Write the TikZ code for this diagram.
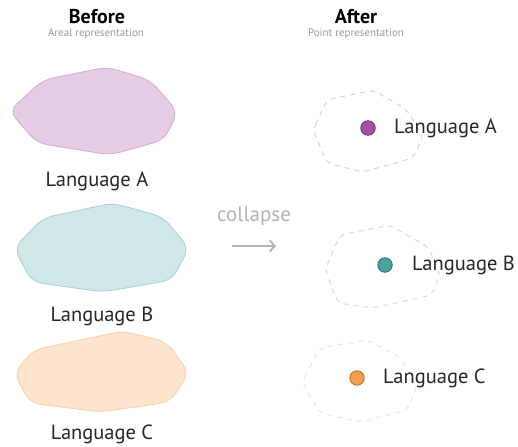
\documentclass[tikz,border=0pt]{standalone}
\usepackage{fontspec}
\setmainfont{PT Sans}
\usetikzlibrary{arrows.meta}
\definecolor{aFill}{HTML}{E6CDE6}
\definecolor{aLine}{HTML}{D6A8D8}
\definecolor{aDot}{HTML}{A64FA9}
\definecolor{aDotLine}{HTML}{6E2C72}
\definecolor{bFill}{HTML}{CFE7E7}
\definecolor{bLine}{HTML}{A2D3D1}
\definecolor{bDot}{HTML}{4AA39F}
\definecolor{bDotLine}{HTML}{2A6966}
\definecolor{cFill}{HTML}{FDE4CD}
\definecolor{cLine}{HTML}{F9D0A6}
\definecolor{cDot}{HTML}{F5A04B}
\definecolor{cDotLine}{HTML}{B86F2B}
\definecolor{subGray}{HTML}{999999}
\definecolor{arrGray}{HTML}{B3B3B3}
\tikzset{
  area/.style={line width=0.8pt, rounded corners=10pt, line join=round},
  ghost/.style={line width=0.9pt, dash pattern=on 5pt off 5pt, rounded corners=6pt},
  dotmark/.style={circle, minimum size=14.5pt, inner sep=0pt, line width=0.8pt},
  langlabel/.style={font=\fontsize{20.5}{24}\selectfont, text=black!85, inner sep=0pt},
  title/.style={font=\fontsize{20}{24}\selectfont\bfseries, inner sep=0pt},
  subtitle/.style={font=\fontsize{11}{13}\selectfont, text=subGray, inner sep=0pt}
}
\begin{document}
\begin{tikzpicture}[x=1pt,y=-1pt]
\useasboundingbox (0,0) rectangle (518,446);
% titles
\node[title, anchor=base] (tb) at (97,24) {Before};
\node[subtitle, anchor=base] (sb) at (96,37) {Areal representation};
\node[title, anchor=base] (ta) at (356,24) {After};
\node[subtitle, anchor=base] (sa) at (356,37) {Point representation};
% areas
\fill[aFill, draw=aLine, area] (9,111) -- (43,80) -- (107,67) -- (150,80) -- (178,112) -- (164,140) -- (110,155) -- (37,143) -- cycle;
\fill[bFill, draw=bLine, area] (14,248) -- (43,218) -- (113,203) -- (163,217) -- (189,248) -- (172,280) -- (103,292) -- (32,282) -- cycle;
\fill[cFill, draw=cLine, area] (14,373) -- (33,350) -- (123,331) -- (167,342) -- (189,373) -- (170,402) -- (100,412) -- (30,403) -- cycle;
\node[langlabel] (la) at (97,181) {Language A};
\node[langlabel] (lb) at (102,316) {Language B};
\node[langlabel] (lc) at (102,434) {Language C};
% collapse
\node[font=\fontsize{21}{24}\selectfont, text=arrGray, inner sep=0pt] (col) at (254,216) {collapse};
\coordinate (ar1) at (232,246);
\coordinate (ar2) at (276,246);
\draw[arrGray, line width=1.8pt, -{Straight Barb[length=5pt,width=11pt]}] (ar1) -- (ar2);
% ghosts
\draw[ghost, aLine!70] (313,130) -- (327,100) -- (373,90) -- (407,110) -- (423,137) -- (413,158) -- (363,172) -- (327,163) -- cycle;
\draw[ghost, bLine!70] (325,270) -- (340,235) -- (390,225) -- (428,247) -- (440,273) -- (432,295) -- (373,308) -- (338,303) -- cycle;
\draw[ghost, cLine!70] (302,382) -- (320,348) -- (367,340) -- (400,357) -- (417,387) -- (407,410) -- (360,422) -- (320,413) -- cycle;
% dots
\node[dotmark, fill=aDot, draw=aDotLine] (da) at (368,128) {};
\node[dotmark, fill=bDot, draw=bDotLine] (db) at (385,265) {};
\node[dotmark, fill=cDot, draw=cDotLine] (dc) at (357,378) {};
\node[langlabel, anchor=west] (pa) at (394,128) {Language A};
\node[langlabel, anchor=west] (pb) at (412,265) {Language B};
\node[langlabel, anchor=west] (pc) at (383,378) {Language C};
\end{tikzpicture}
\end{document}
